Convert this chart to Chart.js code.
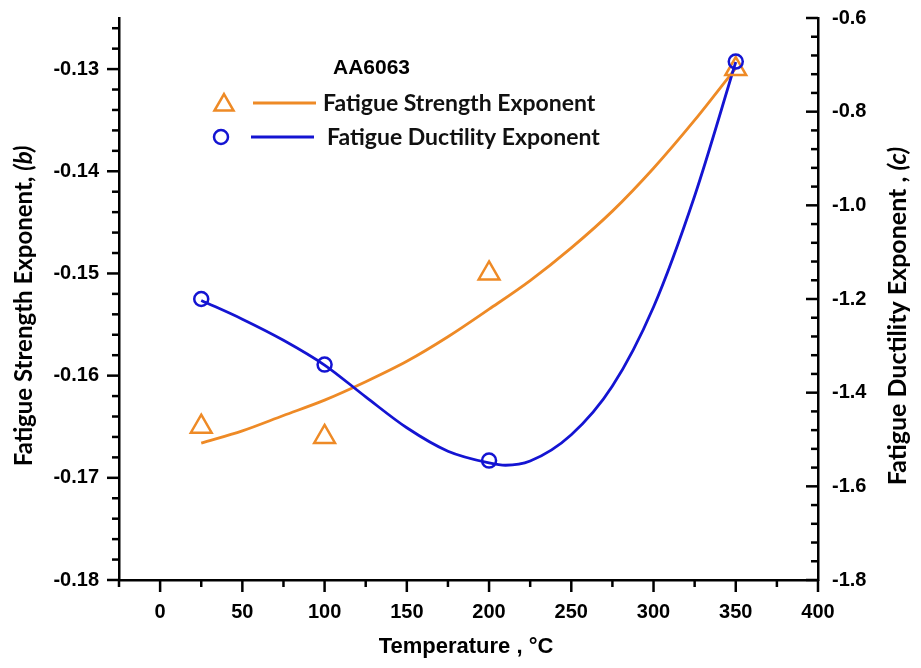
<!DOCTYPE html>
<html lang="en">

<head>
    <meta charset="UTF-8">
    <title>AA6063 fatigue exponents</title>
    <script src="https://cdn.jsdelivr.net/npm/chart.js@4.4.1/dist/chart.umd.min.js"></script>
    <style>
        html, body { margin: 0; padding: 0; background: #fff; }
        #wrap { width: 921px; height: 668px; }
    </style>
</head>

<body>
    <div id="wrap"><canvas id="chart" width="921" height="668"></canvas></div>
    <script>
        // measured points
        const tempPoints = [25, 100, 200, 350];
        const strengthExp = [-0.165, -0.166, -0.150, -0.130];
        const ductilityExp = [-1.20, -1.34, -1.545, -0.693];

        // fitted curves
        const strengthFitX = [25, 50, 75, 100, 125, 150, 175, 200, 225, 250, 275, 300, 325, 350];
        const strengthFit = [-0.1666, -0.1654, -0.1639, -0.1624, -0.1606, -0.1586, -0.1562, -0.1535, -0.1507, -0.1475, -0.1439, -0.1397, -0.1350, -0.1299];
        const ductilityFitX = [25, 50, 75, 100, 125, 150, 175, 200, 210, 225, 250, 275, 300, 325, 350];
        const ductilityFit = [-1.203, -1.243, -1.288, -1.341, -1.409, -1.475, -1.525, -1.550, -1.555, -1.546, -1.490, -1.386, -1.217, -0.980, -0.694];

        const xTicks = [0, 50, 100, 150, 200, 250, 300, 350, 400];
        const leftTicks = [-0.18, -0.17, -0.16, -0.15, -0.14, -0.13];
        const rightTicks = [-1.8, -1.6, -1.4, -1.2, -1.0, -0.8, -0.6];

        const ORANGE = '#EE8A26';
        const BLUE = '#1414D2';
        const tickFont = { family: '"Liberation Sans", Arial, sans-serif', size: 20, weight: 'bold' };

        const toXY = (xs, ys) => xs.map((v, i) => ({ x: v, y: ys[i] }));

        const axisTicks = {
            id: 'axisTicks',
            afterDraw(chart) {
                const ctx = chart.ctx;
                const { x, y, y1 } = chart.scales;
                const area = chart.chartArea;
                ctx.save();
                ctx.strokeStyle = '#000';
                ctx.lineWidth = 2.5;
                const seg = (a, b, c, d) => { ctx.beginPath(); ctx.moveTo(a, b); ctx.lineTo(c, d); ctx.stroke(); };
                // x axis, ticks outward (down)
                for (let i = 0; i <= 17; i++) {
                    const v = -25 + i * 25;
                    const px = x.getPixelForValue(v);
                    seg(px, area.bottom, px, area.bottom + (i % 2 === 1 ? 12 : 7));
                }
                // left axis, ticks outward (left)
                for (let i = 0; i <= 27; i++) {
                    const v = -0.18 + i * 0.002;
                    const py = y.getPixelForValue(v);
                    seg(area.left, py, area.left - (i % 5 === 0 ? 12 : 7), py);
                }
                // right axis, ticks inward (left)
                for (let i = 0; i <= 30; i++) {
                    const v = -1.8 + i * 0.04;
                    const py = y1.getPixelForValue(v);
                    seg(area.right, py, area.right - (i % 5 === 0 ? 12 : 7), py);
                }
                ctx.restore();
            }
        };

        const titlesAndLegend = {
            id: 'titlesAndLegend',
            afterDraw(chart) {
                const ctx = chart.ctx;
                ctx.save();
                ctx.fillStyle = '#000';

                // vertical titles with italic (b) / (c)
                const vTitle = (cx, cy, size, main, ital) => {
                    ctx.save();
                    ctx.translate(cx, cy);
                    ctx.rotate(-Math.PI / 2);
                    ctx.textBaseline = 'middle';
                    const f1 = 'bold ' + size + 'px Lato, sans-serif';
                    const f2 = 'italic bold ' + size + 'px Lato, sans-serif';
                    ctx.font = f1;
                    const w1 = ctx.measureText(main).width;
                    ctx.font = f2;
                    const w2 = ctx.measureText(ital).width;
                    const start = -(w1 + w2) / 2;
                    ctx.textAlign = 'left';
                    ctx.font = f1;
                    ctx.fillText(main, start, 0);
                    ctx.font = f2;
                    ctx.fillText(ital, start + w1, 0);
                    ctx.restore();
                };
                vTitle(24, 306, 24, 'Fatigue Strength Exponent, ', '(b)');
                vTitle(898, 316, 25, 'Fatigue Ductility Exponent , ', '(c)');

                // x title
                ctx.font = 'bold 22px "Liberation Sans", Arial, sans-serif';
                ctx.textAlign = 'center';
                ctx.textBaseline = 'middle';
                ctx.fillText('Temperature , \u00B0C', 466, 647);

                // legend block
                ctx.textAlign = 'left';
                ctx.font = 'bold 21px "Liberation Sans", Arial, sans-serif';
                ctx.fillText('AA6063', 333, 68);

                const rows = [
                    { ds: chart.data.datasets[0], line: chart.data.datasets[2], y: 103, mx: 224, lx0: 253, lx1: 316, tx: 323 },
                    { ds: chart.data.datasets[1], line: chart.data.datasets[3], y: 137, mx: 221, lx0: 251, lx1: 314, tx: 327 }
                ];
                rows.forEach(r => {
                    ctx.strokeStyle = r.ds.borderColor;
                    ctx.fillStyle = 'rgba(0,0,0,0)';
                    ctx.lineWidth = r.ds.borderWidth;
                    Chart.helpers.drawPoint(ctx, {
                        pointStyle: r.ds.pointStyle,
                        radius: r.ds.pointStyle === 'triangle' ? 11 : r.ds.pointRadius,
                        borderWidth: r.ds.borderWidth,
                        rotation: 0
                    }, r.mx, r.y + (r.ds.pointStyle === 'triangle' ? 2 : 0));
                    ctx.strokeStyle = r.line.borderColor;
                    ctx.lineWidth = r.line.borderWidth;
                    ctx.beginPath();
                    ctx.moveTo(r.lx0, r.y);
                    ctx.lineTo(r.lx1, r.y);
                    ctx.stroke();
                    ctx.fillStyle = '#111';
                    ctx.font = 'bold 23px Lato, sans-serif';
                    ctx.textBaseline = 'middle';
                    ctx.fillText(r.ds.label, r.tx, r.y + 1);
                });
                ctx.restore();
            }
        };

        const noPadV = s => { s.paddingTop = 0; s.paddingBottom = 0; };

        const ctx = document.getElementById('chart').getContext('2d');
        const myChart = new Chart(ctx, {
            type: 'scatter',
            data: {
                datasets: [{
                    label: 'Fatigue Strength Exponent',
                    data: toXY(tempPoints, strengthExp),
                    yAxisID: 'y',
                    pointStyle: 'triangle',
                    pointRadius: 12,
                    borderColor: ORANGE,
                    backgroundColor: 'rgba(0,0,0,0)',
                    borderWidth: 2.5,
                    showLine: false,
                    order: 1
                }, {
                    label: 'Fatigue Ductility Exponent',
                    data: toXY(tempPoints, ductilityExp),
                    yAxisID: 'y1',
                    pointStyle: 'circle',
                    pointRadius: 7,
                    borderColor: BLUE,
                    backgroundColor: 'rgba(0,0,0,0)',
                    borderWidth: 2.5,
                    showLine: false,
                    order: 0
                }, {
                    label: 'Strength fit',
                    data: toXY(strengthFitX, strengthFit),
                    yAxisID: 'y',
                    showLine: true,
                    pointRadius: 0,
                    borderColor: ORANGE,
                    borderWidth: 2.8,
                    cubicInterpolationMode: 'monotone',
                    order: 3
                }, {
                    label: 'Ductility fit',
                    data: toXY(ductilityFitX, ductilityFit),
                    yAxisID: 'y1',
                    showLine: true,
                    pointRadius: 0,
                    borderColor: BLUE,
                    borderWidth: 2.8,
                    cubicInterpolationMode: 'monotone',
                    order: 2
                }]
            },
            options: {
                responsive: false,
                animation: false,
                layout: { padding: { top: 18, left: 0, right: 0, bottom: 0 } },
                plugins: {
                    legend: { display: false },
                    tooltip: { enabled: false }
                },
                scales: {
                    x: {
                        type: 'linear',
                        min: -25,
                        max: 400,
                        afterBuildTicks: s => { s.ticks = xTicks.map(v => ({ value: v })); },
                        afterFit: s => { s.height = 88; s.paddingLeft = 0; s.paddingRight = 0; },
                        grid: { display: false, drawTicks: false },
                        border: { display: true, color: '#000', width: 2.5 },
                        ticks: { color: '#000', font: tickFont, padding: 20, maxRotation: 0, callback: v => v }
                    },
                    y: {
                        position: 'left',
                        min: -0.18,
                        max: -0.125,
                        afterBuildTicks: s => { s.ticks = leftTicks.map(v => ({ value: v })); },
                        afterFit: s => { s.width = 119; noPadV(s); },
                        grid: { display: false, drawTicks: false },
                        border: { display: true, color: '#000', width: 2.5 },
                        ticks: { color: '#000', font: tickFont, padding: 20, callback: v => v.toFixed(2) }
                    },
                    y1: {
                        position: 'right',
                        min: -1.8,
                        max: -0.6,
                        afterBuildTicks: s => { s.ticks = rightTicks.map(v => ({ value: v })); },
                        afterFit: s => { s.width = 103; noPadV(s); },
                        grid: { display: false, drawTicks: false },
                        border: { display: true, color: '#000', width: 2.5 },
                        ticks: { color: '#000', font: tickFont, padding: 14, callback: v => v.toFixed(1) }
                    }
                }
            },
            plugins: [axisTicks, titlesAndLegend]
        });
    </script>
</body>

</html>
